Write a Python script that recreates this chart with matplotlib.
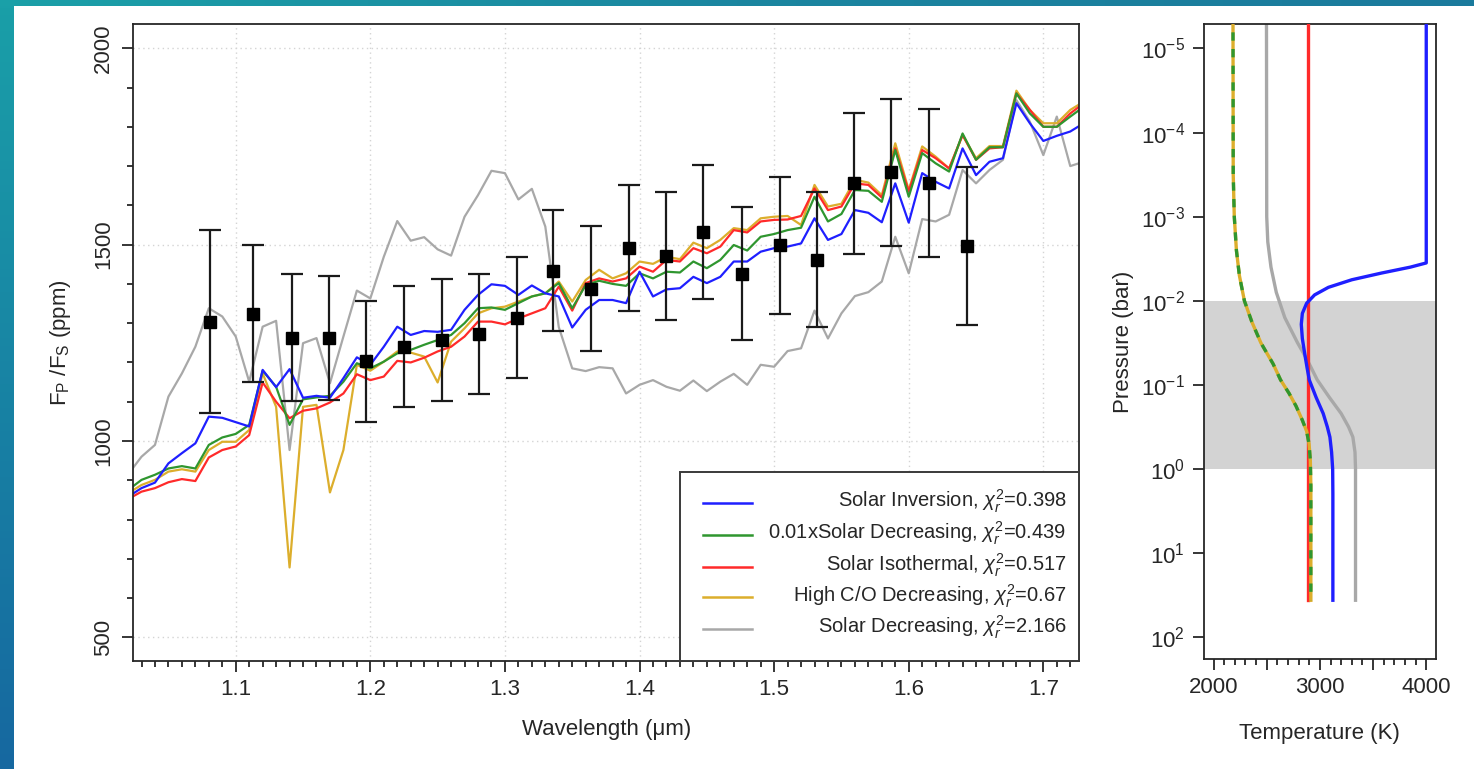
import numpy as np
import matplotlib
matplotlib.use("Agg")
import matplotlib.pyplot as plt
import matplotlib.ticker as mticker
from matplotlib.patches import Rectangle

plt.rcParams['font.family'] = ['Liberation Sans', 'DejaVu Sans']
plt.rcParams['mathtext.fontset'] = 'custom'
plt.rcParams['mathtext.rm'] = 'Liberation Sans'
plt.rcParams['mathtext.it'] = 'Liberation Sans:italic'
plt.rcParams['mathtext.bf'] = 'Liberation Sans:bold'

# ---- model emission spectra (ppm) ----
wl = [1.02, 1.03, 1.04, 1.05, 1.06, 1.07, 1.08, 1.09, 1.10, 1.11, 1.12, 1.13,
      1.14, 1.15, 1.16, 1.17, 1.18, 1.19, 1.20, 1.21, 1.22, 1.23, 1.24, 1.25,
      1.26, 1.27, 1.28, 1.29, 1.30, 1.31, 1.32, 1.33, 1.34, 1.35, 1.36, 1.37,
      1.38, 1.39, 1.40, 1.41, 1.42, 1.43, 1.44, 1.45, 1.46, 1.47, 1.48, 1.49,
      1.50, 1.51, 1.52, 1.53, 1.54, 1.55, 1.56, 1.57, 1.58, 1.59, 1.60, 1.61,
      1.62, 1.63, 1.64, 1.65, 1.66, 1.67, 1.68, 1.69, 1.70, 1.71, 1.72, 1.73]

solar_inversion = [858, 880, 894, 943, 969, 994, 1062, 1059, 1048, 1037, 1181, 1137,
                   1183, 1110, 1115, 1110, 1160, 1213, 1194, 1240, 1291, 1270, 1280, 1278,
                   1283, 1334, 1372, 1399, 1395, 1372, 1396, 1376, 1368, 1289, 1334, 1359,
                   1359, 1351, 1431, 1368, 1386, 1389, 1418, 1402, 1418, 1457, 1457, 1482,
                   1491, 1495, 1503, 1567, 1512, 1527, 1588, 1581, 1557, 1656, 1556, 1682,
                   1660, 1643, 1745, 1677, 1711, 1720, 1860, 1809, 1764, 1777, 1788, 1809]

low_z_decreasing = [875, 901, 914, 930, 936, 930, 990, 1009, 1018, 1041, 1179, 1138,
                    1041, 1106, 1111, 1115, 1151, 1198, 1185, 1202, 1223, 1232, 1245, 1257,
                    1270, 1300, 1338, 1340, 1334, 1351, 1368, 1376, 1402, 1338, 1397, 1408,
                    1400, 1395, 1427, 1414, 1431, 1429, 1457, 1440, 1461, 1499, 1485, 1520,
                    1527, 1537, 1543, 1622, 1559, 1578, 1639, 1637, 1609, 1741, 1622, 1733,
                    1707, 1686, 1783, 1716, 1748, 1748, 1885, 1834, 1800, 1800, 1826, 1851]

solar_isothermal = [852, 871, 880, 895, 903, 898, 958, 977, 986, 1015, 1149, 1100,
                    1058, 1077, 1083, 1098, 1121, 1170, 1155, 1164, 1204, 1200, 1212, 1228,
                    1240, 1266, 1304, 1304, 1297, 1312, 1325, 1338, 1393, 1332, 1402, 1414,
                    1406, 1414, 1444, 1431, 1461, 1457, 1491, 1478, 1495, 1537, 1531, 1559,
                    1563, 1564, 1573, 1643, 1588, 1597, 1656, 1652, 1620, 1745, 1635, 1741,
                    1720, 1694, 1779, 1716, 1745, 1748, 1885, 1843, 1800, 1800, 1834, 1860]

high_co_decreasing = [867, 888, 901, 922, 928, 922, 977, 998, 998, 1028, 1172, 1087,
                      678, 1087, 1092, 869, 977, 1194, 1179, 1202, 1228, 1225, 1215, 1149,
                      1253, 1287, 1325, 1338, 1342, 1355, 1368, 1376, 1406, 1355, 1410, 1436,
                      1414, 1427, 1457, 1451, 1469, 1463, 1505, 1491, 1512, 1542, 1537, 1567,
                      1571, 1573, 1550, 1652, 1597, 1604, 1665, 1658, 1626, 1758, 1639, 1750,
                      1724, 1694, 1779, 1720, 1751, 1751, 1892, 1843, 1809, 1809, 1843, 1864]

solar_decreasing = [915, 960, 990, 1113, 1172, 1240, 1338, 1317, 1266, 1151, 1291, 1306,
                    977, 1249, 1262, 1147, 1266, 1383, 1363, 1469, 1560, 1510, 1519, 1488,
                    1472, 1571, 1626, 1688, 1682, 1615, 1642, 1546, 1290, 1185, 1178, 1188,
                    1185, 1121, 1143, 1155, 1138, 1128, 1154, 1127, 1151, 1171, 1143, 1194,
                    1189, 1229, 1236, 1332, 1261, 1325, 1369, 1379, 1406, 1520, 1427, 1565,
                    1559, 1576, 1690, 1656, 1690, 1716, 1868, 1813, 1728, 1826, 1700, 1711]

# ---- observed eclipse depths ----
obs_wl = [1.081, 1.113, 1.142, 1.169, 1.197, 1.225, 1.253, 1.281, 1.309, 1.336, 1.364,
          1.392, 1.420, 1.447, 1.476, 1.504, 1.532, 1.559, 1.587, 1.615, 1.643]
obs_depth = [1303, 1324, 1263, 1262, 1203, 1240, 1257, 1273, 1314, 1434, 1388,
             1491, 1471, 1532, 1426, 1498, 1462, 1656, 1684, 1657, 1497]
obs_err = [233, 174, 161, 158, 154, 154, 155, 153, 154, 153, 160,
           160, 162, 170, 170, 174, 171, 179, 187, 189, 201]

# ---- temperature-pressure profiles (log10 P in bar, T in K) ----
inv_logp = [-6, -2.45, -2.40, -2.33, -2.25, -2.16, -2.07, -1.97, -1.85, -1.72, -1.55,
            -1.35, -1.2, -1.06, -0.85, -0.66, -0.5, -0.38, -0.2, 0.0, 0.3, 1.56]
inv_T = [4000, 4000, 3850, 3580, 3300, 3080, 2950, 2875, 2835, 2825, 2835,
         2860, 2880, 2900, 2965, 3031, 3070, 3094, 3110, 3120, 3122, 3122]

dec_logp = [-6, -3.5, -3.0, -2.6, -2.3, -2.0, -1.75, -1.5, -1.25, -1.06, -0.9,
            -0.75, -0.58, -0.45, -0.3, -0.1, 0.2, 1.56]
dec_T = [2182, 2185, 2195, 2215, 2243, 2290, 2360, 2445, 2560, 2630, 2710,
         2775, 2835, 2875, 2898, 2910, 2915, 2915]

sdec_logp = [-6, -3.0, -2.7, -2.4, -2.1, -1.8, -1.5, -1.3, -1.06, -0.85, -0.66,
             -0.5, -0.38, -0.2, 0.0, 1.56]
sdec_T = [2497, 2500, 2510, 2540, 2590, 2670, 2790, 2880, 2975, 3090, 3200,
          3270, 3310, 3330, 3335, 3335]

iso_logp = [-6, 1.56]
iso_T = [2885, 2885]

labels = [r'Solar Inversion, $\chi^2_r$=0.398',
          r'0.01xSolar Decreasing, $\chi^2_r$=0.439',
          r'Solar Isothermal, $\chi^2_r$=0.517',
          r'High C/O Decreasing, $\chi^2_r$=0.67',
          r'Solar Decreasing, $\chi^2_r$=2.166']
colors = ['#1f1fff', '#2f962f', '#ff2a2a', '#dcae2c', '#a8a8a8']

INK = '#262626'
W, H = 1474, 769

fig = plt.figure(figsize=(W / 100, H / 100), dpi=100)
fig.patch.set_facecolor('white')

# slide border strips
strip_l = fig.add_axes([0, 0, 14 / W, 1])
strip_l.imshow(np.linspace(0, 1, 100).reshape(-1, 1), aspect='auto',
               cmap=matplotlib.colors.LinearSegmentedColormap.from_list(
                   'l', ['#1a9fa8', '#1668a0']), extent=[0, 1, 0, 1])
strip_l.axis('off')
strip_t = fig.add_axes([0, 1 - 6 / H, 1, 6 / H])
strip_t.imshow(np.linspace(0, 1, 100).reshape(1, -1), aspect='auto',
               cmap=matplotlib.colors.LinearSegmentedColormap.from_list(
                   't', ['#1aa0a8', '#1a86a0', '#1a7a9c']), extent=[0, 1, 0, 1])
strip_t.axis('off')

# ======== Spectrum panel ========
ax = fig.add_axes([133.3 / W, (H - 661) / H, (1079 - 133.3) / W, (661 - 24.3) / H])
series = [solar_inversion, low_z_decreasing, solar_isothermal,
          high_co_decreasing, solar_decreasing]
for idx in [4, 3, 2, 1, 0]:
    ax.plot(wl, series[idx], color=colors[idx], lw=1.6, zorder=2)

ax.errorbar(obs_wl, obs_depth, yerr=obs_err, fmt='s', color='black', ms=8,
            ecolor='#1a1a1a', elinewidth=1.6, capsize=8, capthick=1.6, zorder=4)

ax.set_xlim(1.0239, 1.7265)
ax.set_ylim(439.8, 2061)
ax.xaxis.set_major_locator(mticker.MultipleLocator(0.1))
ax.xaxis.set_minor_locator(mticker.MultipleLocator(0.01))
ax.xaxis.set_major_formatter(mticker.FormatStrFormatter('%.1f'))
ax.yaxis.set_major_locator(mticker.MultipleLocator(500))
ax.yaxis.set_minor_locator(mticker.MultipleLocator(100))
ax.grid(True, which='major', color='#d4d4d4', ls=(0, (1, 2.5)), lw=1.0, zorder=0)
ax.tick_params(which='major', direction='out', length=8, width=1.3, color=INK,
               labelsize=16, labelcolor=INK)
ax.tick_params(which='minor', direction='out', length=4.5, width=1.3, color=INK)
ax.tick_params(axis='x', which='major', pad=5)
ax.tick_params(axis='y', which='major', pad=6)
for t in ax.get_yticklabels():
    t.set_rotation(90)
    t.set_va('center')
for sp in ax.spines.values():
    sp.set_linewidth(1.3)
    sp.set_color(INK)
ax.set_xlabel(u'Wavelength (\u03bcm)', fontsize=16, color=INK, labelpad=14)
ax.set_ylabel(r'F$_\mathrm{P}$ /F$_\mathrm{S}$ (ppm)', fontsize=16, color=INK,
              labelpad=14)

# legend box, right-aligned entries
ax.add_patch(Rectangle((0.5781, 0), 1 - 0.5781, 0.2973, transform=ax.transAxes,
                       facecolor='white', edgecolor='#3a3a3a', lw=1.4, zorder=6,
                       clip_on=False))
rows = [0.2486, 0.1979, 0.1481, 0.1000, 0.0503]
for lab, col, yy in zip(labels, colors, rows):
    ax.plot([0.6029, 0.6547], [yy, yy], transform=ax.transAxes, color=col,
            lw=1.8, zorder=7)
    ax.text(0.9869, yy - 0.0075, lab, transform=ax.transAxes, ha='right',
            va='baseline', fontsize=14.5, color=INK, zorder=7)

# ======== Temperature-pressure panel ========
ax2 = fig.add_axes([1204.3 / W, (H - 659.3) / H, (1435.5 - 1204.3) / W, (659.3 - 24.3) / H])
ax2.axhspan(1e-2, 1.0, color='#d3d3d3', lw=0, zorder=0)
p = lambda lp: 10.0 ** np.array(lp)
ax2.plot(sdec_T, p(sdec_logp), color=colors[4], lw=2.4, zorder=2)
ax2.plot(iso_T, p(iso_logp), color=colors[2], lw=2.4, zorder=3)
ax2.plot(dec_T, p(dec_logp), color=colors[3], lw=2.4, zorder=3)
ax2.plot(dec_T, p(dec_logp), color=colors[1], lw=2.4, ls=(0, (2.5, 2.5)), zorder=4)
ax2.plot(inv_T, p(inv_logp), color=colors[0], lw=2.4, zorder=5)

ax2.set_yscale('log')
ax2.set_ylim(10 ** 2.262, 10 ** -5.287)
ax2.set_xlim(1913, 4087)
ax2.yaxis.set_major_locator(mticker.FixedLocator([1e-5, 1e-4, 1e-3, 1e-2, 1e-1, 1e0, 1e1, 1e2]))
ax2.yaxis.set_minor_locator(mticker.NullLocator())
ax2.xaxis.set_major_locator(mticker.FixedLocator([2000, 2500, 3000, 3500, 4000]))
ax2.xaxis.set_major_formatter(mticker.FixedFormatter(['2000', '', '3000', '', '4000']))
ax2.xaxis.set_minor_locator(mticker.MultipleLocator(100))
ax2.tick_params(which='major', direction='out', length=8, width=1.3, color=INK,
                labelsize=16, labelcolor=INK)
ax2.tick_params(which='minor', direction='out', length=4.5, width=1.3, color=INK)
ax2.tick_params(axis='x', which='major', pad=5)
ax2.tick_params(axis='y', which='major', pad=6)
for sp in ax2.spines.values():
    sp.set_linewidth(1.3)
    sp.set_color(INK)
ax2.set_xlabel('Temperature (K)', fontsize=16, color=INK, labelpad=18)
ax2.set_ylabel('Pressure (bar)', fontsize=16, color=INK)
ax2.yaxis.set_label_coords(-0.305, 0.5)

fig.savefig('out.png', dpi=100, facecolor=fig.get_facecolor())
